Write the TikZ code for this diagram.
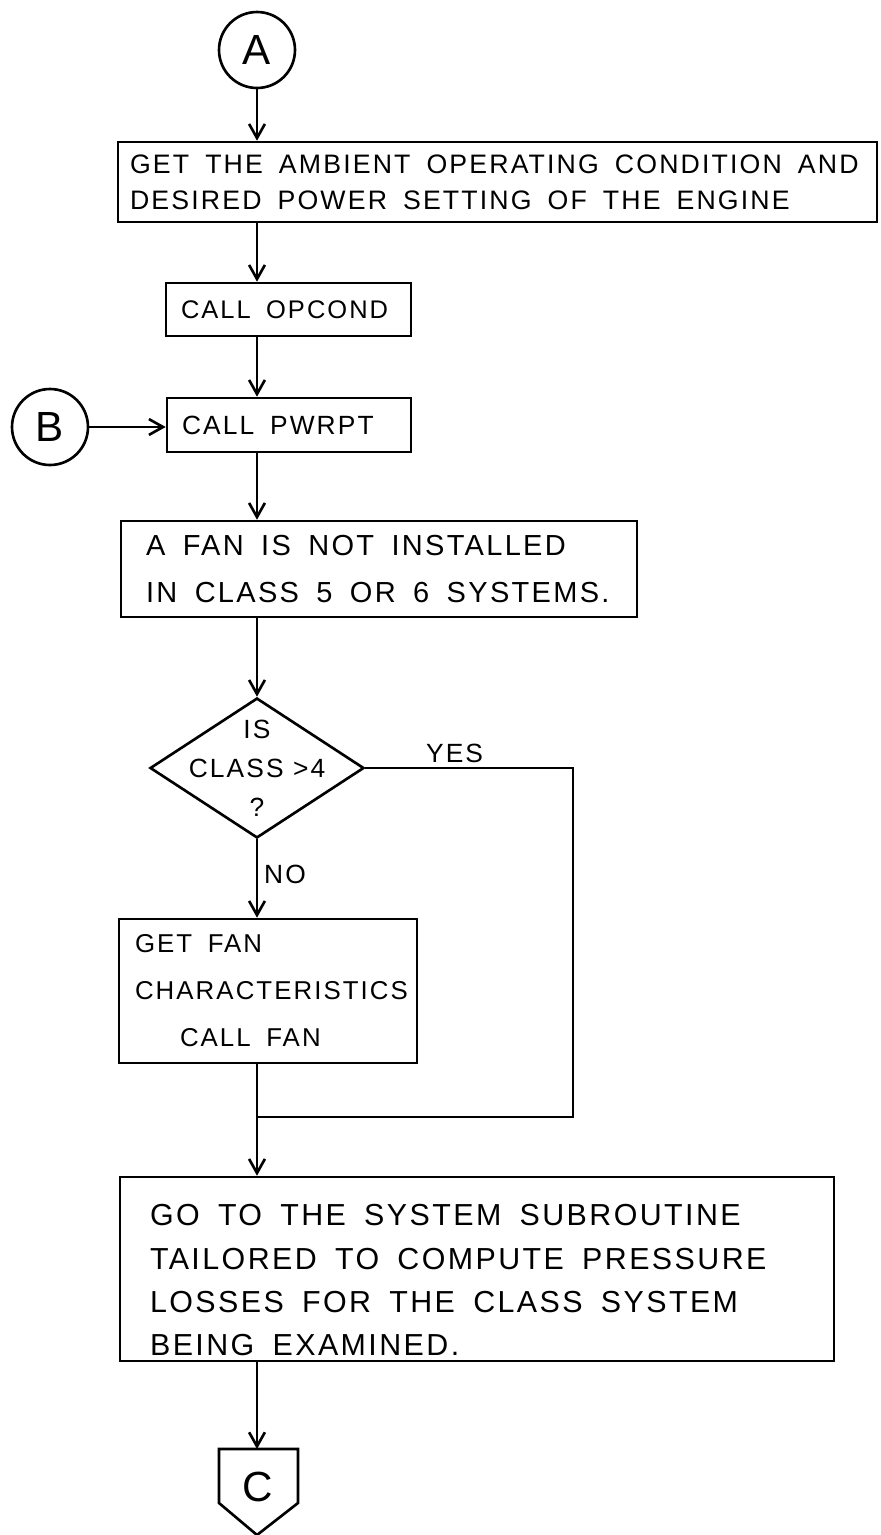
\documentclass[tikz,border=0pt]{standalone}
\usepackage{fontspec}
\newfontfamily\handfont[LetterSpace=8]{Liberation Sans}
\usetikzlibrary{shapes.geometric,arrows.meta}

\begin{document}
\begin{tikzpicture}[x=0.02cm,y=-0.02cm,line width=1.5pt,
  >={Straight Barb[length=8pt,width=9pt]},
  every node/.style={font=\handfont\fontsize{15}{20}\selectfont},
  conn/.style={draw,circle,minimum size=1.52cm,inner sep=0pt,font=\handfont\fontsize{24}{24}\selectfont},
  stepbox/.style={draw,rectangle,align=left,inner ysep=0pt,
    execute at begin node={\spaceskip=0.6em plus 0.1em minus 0.1em\relax}},
  decision/.style={draw,diamond,inner sep=0pt,minimum width=4.28cm,minimum height=2.8cm}]
\useasboundingbox (0,0) rectangle (881,1535);

%连接点A和B
\node[conn] (A) at (257,50) {A};
\node[conn] (B) at (50,427) {B};
%画出各个处理框
\node[stepbox,minimum width=15.18cm,minimum height=1.6cm,text width=14.7cm,inner xsep=0.24cm,
  font=\handfont\fontsize{15.2}{20.5}\selectfont] (get) at (497.5,182)
  {GET THE AMBIENT OPERATING CONDITION AND\\DESIRED POWER SETTING OF THE ENGINE};
\node[stepbox,minimum width=4.9cm,minimum height=1.06cm,text width=4.3cm,inner xsep=0.3cm,
  font=\handfont\fontsize{14.5}{20}\selectfont] (opcond) at (288.5,309.5) {CALL OPCOND};
\node[stepbox,minimum width=4.88cm,minimum height=1.08cm,text width=4.28cm,inner xsep=0.3cm] (pwrpt) at (289,425) {CALL PWRPT};
\node[stepbox,minimum width=10.32cm,minimum height=1.92cm,text width=9.32cm,inner xsep=0.5cm,
  font=\handfont\fontsize{16.5}{26.7}\selectfont] (note) at (379,569)
  {A FAN IS NOT INSTALLED\\IN CLASS 5 OR 6 SYSTEMS.};
%判断框
\node[decision,label={[align=center,font=\handfont\fontsize{15}{22.2}\selectfont]center:IS\\CLASS >4\\?}] (class) at (257,768) {};
\node[stepbox,minimum width=5.96cm,minimum height=2.88cm,text width=5.32cm,inner xsep=0.32cm,
  font=\handfont\fontsize{14.7}{26.7}\selectfont] (fan) at (268,991)
  {GET FAN\\CHARACTERISTICS\\\hspace*{0.9cm}CALL FAN};
\node[stepbox,minimum width=14.28cm,minimum height=3.68cm,text width=13.08cm,inner xsep=0.6cm,
  font=\handfont\fontsize{17.3}{24.6}\selectfont] (sys) at (477,1269)
  {\rule{0pt}{25pt}GO TO THE SYSTEM SUBROUTINE\\TAILORED TO COMPUTE PRESSURE\\LOSSES FOR THE CLASS SYSTEM\\BEING EXAMINED.};
%离页连接符C
\draw (219,1449) -- (298,1449) -- (298,1503) -- (257,1535) -- (219,1503) -- cycle;
\node[font=\handfont\fontsize{24}{24}\selectfont] (C) at (258,1487) {C};
\coordinate (Ctop) at (257,1449);
\coordinate (join) at (257,1117);
\coordinate (bend) at (573,1117);

%画出连线
\draw[->] (A) -- (A |- get.north);
\draw[->] (A |- get.south) -- (A |- opcond.north);
\draw[->] (A |- opcond.south) -- (A |- pwrpt.north);
\draw[->] (B) -- (B -| pwrpt.west);
\draw[->] (A |- pwrpt.south) -- (A |- note.north);
\draw[->] (A |- note.south) -- (class.north);
\draw[->] (class) -- node[right,pos=0.45]{NO} (class |- fan.north);
\draw (class.east) -- node[above,pos=0.43,inner sep=2pt]{YES} (class.east -| bend) -- (bend) -- (join);
\draw (join |- fan.south) -- (join);
\draw[->] (join) -- (join |- sys.north);
\draw[->] (A |- sys.south) -- (Ctop);
\end{tikzpicture}
\end{document}
